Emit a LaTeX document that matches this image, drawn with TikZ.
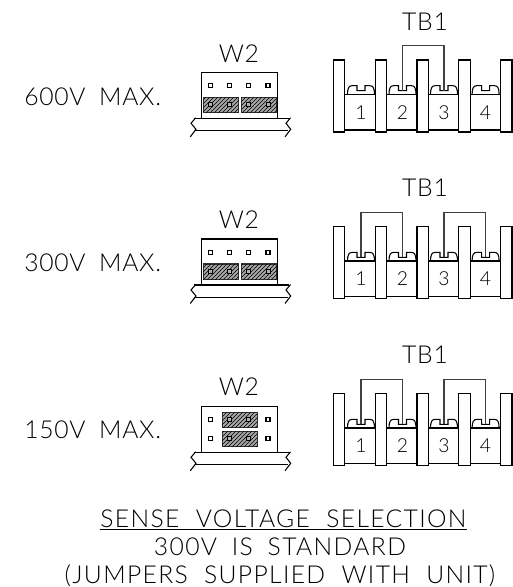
\documentclass[tikz,border=0pt]{standalone}
\usepackage{fontspec}
\setmainfont{Lato Light}
\newfontfamily\lab[LetterSpace=3]{Lato Light}
\newfontfamily\capt[LetterSpace=5.5]{Lato Light}
\usetikzlibrary{patterns}
\tikzset{
  x=0.75pt,y=-0.75pt,
  ln/.style={line width=0.8pt,black},
  jmp/.style={line width=0.9pt,black!75},
  pinbox/.style={line width=0.9pt,black,fill=white},
  hatchbox/.style={line width=0.9pt,draw=black!80,fill=black!35,postaction={pattern=north east lines,pattern color=black}},
  txt/.style={inner sep=0pt,anchor=base,font=\lab\fontsize{18.5}{20}\selectfont},
  txtl/.style={txt,anchor=base west},
  captxt/.style={inner sep=0pt,anchor=base,font=\capt\fontsize{18.5}{20}\selectfont},
  dig/.style={inner sep=0pt,anchor=base,font=\fontsize{14.5}{16}\selectfont}
}
\newcommand{\tbgroup}[1]{%
  \foreach \bx in {333.5,375.3,417,458.8,500.6}{
    \draw[ln,fill=white] (\bx,60) rectangle (\bx+11.4,132);
  }
  \foreach \bx in {345,386.8,428.5,470.2}{
    \draw[ln] (\bx,94.3) -- (\bx+30.4,94.3) (\bx,130) -- (\bx+30.4,130);
  }
  \foreach \c/\n in {361/1,402.5/2,444/3,485.6/4}{
    \draw[ln] (\c-13.5,94.3) .. controls (\c-13.5,88) and (\c-12,85.7) .. (\c-9,85.7)
      -- (\c-4,85.7) -- (\c-4,90.7) -- (\c+4,90.7) -- (\c+4,85.7) -- (\c+9,85.7)
      .. controls (\c+12,85.7) and (\c+13.5,88) .. (\c+13.5,94.3);
    \node[dig] (tbd\n) at (\c,119) {\n};
  }
  \node[txt] (tbl) at (425,30) {TB1};
  #1
}
\newcommand{\jmpr}[2]{\draw[jmp] (#1,90.7) -- (#1,\jt) -- (#2,\jt) -- (#2,90.7);}
\newcommand{\board}[2]{% top y of board, bottom y
  \draw[ln] (193.5,#1) -- (289,#1);
  \draw[ln] (195,#2) -- (288,#2);
  \draw[ln] (195.7,#1-0.5) -- (191,#1+5) -- (196,#1+11) -- (190.3,#1+18.5);
  \draw[ln] (290.5,#1-0.5) -- (286,#1+5) -- (290.7,#1+11) -- (285,#1+18.5);
}
\newcommand{\pin}[2]{\draw[pinbox] (#1-2,#2-2) rectangle (#1+2,#2+2);}
\newcommand{\pindark}[2]{\draw[line width=0.7pt,black,fill=black!30] (#1-2,#2-2) rectangle (#1+2,#2+2);}
\begin{document}
\begin{tikzpicture}
\useasboundingbox (0,0) rectangle (513,587);
\fill[white] (0,0) rectangle (513,587);

% --- 600V ---
\begin{scope}
  \def\jt{45.7}
  \tbgroup{\jmpr{402.5}{444}}
  \node[txt] (w2a) at (239,62) {W2};
  \node[txtl] (va) at (24,105) {600V\hspace{0.55em}MAX.};
  \draw[ln] (201.3,118) -- (201.3,72.3) -- (277.7,72.3) -- (277.7,118);
  \foreach \px in {210.7,229.7,248.7,268}{\pin{\px}{85.7}}
  \draw[hatchbox] (203.3,97.3) rectangle (238.7,112.7);
  \draw[hatchbox] (241.3,97.3) rectangle (276.7,112.7);
  \foreach \px in {210.7,229.7,248.7,268}{\pindark{\px}{104.7}}
  \board{118.3}{130.7}
\end{scope}

% --- 300V ---
\begin{scope}[shift={(0,166.7)}]
  \def\jt{45.7}
  \tbgroup{\jmpr{361}{402.5}\jmpr{444}{485.6}}
  \node[txt] (w2b) at (239,62) {W2};
  \node[txtl] (vb) at (24,105) {300V\hspace{0.55em}MAX.};
  \draw[ln] (201.3,118) -- (201.3,72.3) -- (277.7,72.3) -- (277.7,118);
  \foreach \px in {210.7,229.7,248.7,268}{\pin{\px}{85.7}}
  \draw[hatchbox] (203.3,97.3) rectangle (238.7,112.7);
  \draw[hatchbox] (241.3,97.3) rectangle (276.7,112.7);
  \foreach \px in {210.7,229.7,248.7,268}{\pindark{\px}{104.7}}
  \board{118.3}{130.7}
\end{scope}

% --- 150V ---
\begin{scope}[shift={(0,333.7)}]
  \def\jt{45.7}
  \tbgroup{\jmpr{361}{402.5}\jmpr{444}{485.6}}
  \node[txt] (w2c) at (239,62) {W2};
  \node[txtl] (vc) at (24,105) {150V\hspace{0.55em}MAX.};
  \draw[ln] (201.3,118) -- (201.3,73) -- (277.7,73) -- (277.7,118);
  \foreach \px in {210.7,268}{\pin{\px}{85.7}\pin{\px}{104.7}}
  \draw[hatchbox] (222.3,78.6) rectangle (257.3,94);
  \draw[hatchbox] (222.3,97.6) rectangle (257.3,113);
  \foreach \px in {229.7,248.7}{\pindark{\px}{85.7}\pindark{\px}{104.7}}
  \board{118.6}{130.6}
\end{scope}

% --- caption ---
\node[captxt] (capa) at (283.5,527) {SENSE\hspace{0.66em}VOLTAGE\hspace{0.66em}SELECTION};
\draw[ln] (capa.base west) ++(0,2.5) coordinate (ula) -- (ula -| capa.base east);
\node[captxt] (capb) at (280,555) {300V\hspace{0.6em}IS\hspace{0.6em}STANDARD};
\node[captxt] (capc) at (280,583) {(JUMPERS\hspace{0.66em}SUPPLIED\hspace{0.66em}WITH\hspace{0.66em}UNIT)};
\end{tikzpicture}
\end{document}
